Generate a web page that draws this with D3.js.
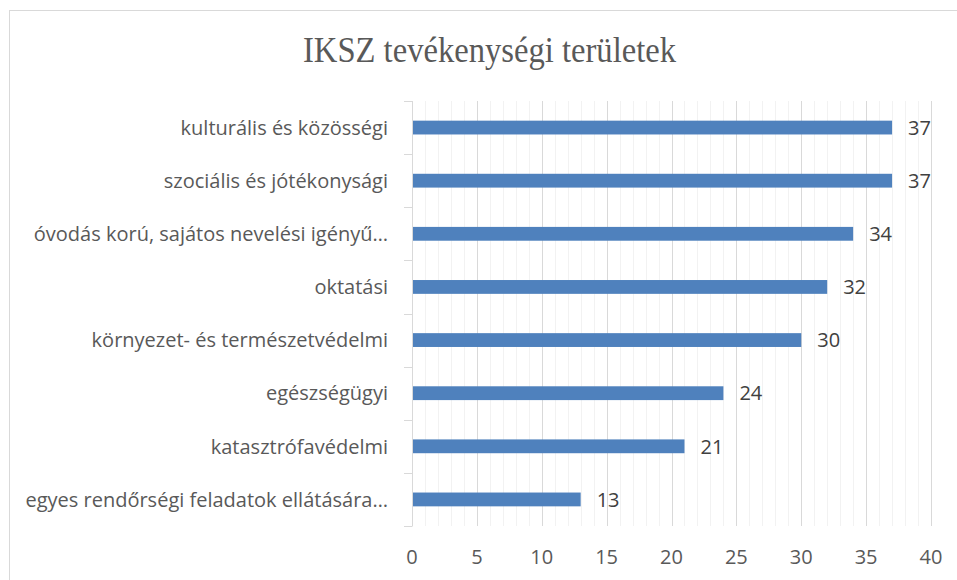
<!DOCTYPE html>
<html><head><meta charset="utf-8">
<script src="https://cdn.jsdelivr.net/npm/d3@7"></script>
<style>body{margin:0;background:#fff;} svg{display:block;}</style>
</head><body>
<script>
const title = "IKSZ tevékenységi területek";
const categories = [
  "kulturális és közösségi",
  "szociális és jótékonysági",
  "óvodás korú, sajátos nevelési igényű…",
  "oktatási",
  "környezet- és természetvédelmi",
  "egészségügyi",
  "katasztrófavédelmi",
  "egyes rendőrségi feladatok ellátására…"
];
const values = [37, 37, 34, 32, 30, 24, 21, 13];
const xTicks = [0, 5, 10, 15, 20, 25, 30, 35, 40];

(function () {
const W = 957, H = 580;
const svg = d3.select("body").append("svg").attr("width", W).attr("height", H);

// chart frame
svg.append("rect").attr("x", 9.5).attr("y", 10.5).attr("width", 980).attr("height", 600)
  .attr("fill", "#fff").attr("stroke", "#d9d9d9").attr("stroke-width", 1);

const pL = 412, pR = 931, pT = 101, pB = 526;
const x = d3.scaleLinear().domain([0, 40]).range([pL, pR]);
const y = d3.scaleBand().domain(categories).range([pT, pB]).paddingInner(0.74).paddingOuter(0.37);

// minor gridlines
svg.append("g").selectAll("line").data(d3.range(0, 41).filter(d => d % 5 !== 0)).join("line")
  .attr("x1", d => Math.round(x(d)) + 0.5).attr("x2", d => Math.round(x(d)) + 0.5)
  .attr("y1", pT).attr("y2", pB).attr("stroke", "#f2f2f2").attr("stroke-width", 1);
// major gridlines
svg.append("g").selectAll("line").data(xTicks.filter(d => d > 0)).join("line")
  .attr("x1", d => Math.round(x(d)) + 0.5).attr("x2", d => Math.round(x(d)) + 0.5)
  .attr("y1", pT).attr("y2", pB).attr("stroke", "#d9d9d9").attr("stroke-width", 1);

// category axis
const bounds = d3.range(0, categories.length + 1).map(i => pT + i * (pB - pT) / categories.length);
svg.append("line").attr("x1", pL + 0.5).attr("x2", pL + 0.5).attr("y1", pT).attr("y2", pB)
  .attr("stroke", "#d9d9d9");
svg.append("g").selectAll("line").data(bounds).join("line")
  .attr("x1", pL - 8).attr("x2", pL + 0.5)
  .attr("y1", d => Math.round(d) + 0.5).attr("y2", d => Math.round(d) + 0.5)
  .attr("stroke", "#d9d9d9");

// bars
svg.append("g").selectAll("rect").data(values).join("rect")
  .attr("x", x(0) + 1).attr("y", (d, i) => y(categories[i]))
  .attr("width", d => x(d) - x(0) - 1).attr("height", y.bandwidth())
  .attr("fill", "#4f81bd");

// value labels
svg.append("g").selectAll("text").data(values).join("text")
  .attr("x", d => x(d) + 16).attr("y", (d, i) => y(categories[i]) + y.bandwidth() / 2)
  .attr("dy", "0.36em").attr("font-family", "'Open Sans', sans-serif").attr("font-size", 20)
  .attr("fill", "#404040").text(d => d);

// category labels
svg.append("g").selectAll("text").data(categories).join("text")
  .attr("x", 388).attr("y", d => y(d) + y.bandwidth() / 2)
  .attr("dy", "0.36em").attr("text-anchor", "end")
  .attr("font-family", "'Open Sans', sans-serif").attr("font-size", 20)
  .attr("fill", "#595959").text(d => d);

// x tick labels
svg.append("g").selectAll("text").data(xTicks).join("text")
  .attr("x", d => x(d)).attr("y", 557).attr("dy", "0.36em").attr("text-anchor", "middle")
  .attr("font-family", "'Open Sans', sans-serif").attr("font-size", 20)
  .attr("fill", "#595959").text(d => d);

// title
svg.append("text").attr("x", 489.5).attr("y", 62).attr("text-anchor", "middle")
  .attr("font-family", "'Liberation Serif', serif").attr("font-size", 35)
  .attr("textLength", 373).attr("lengthAdjust", "spacingAndGlyphs")
  .attr("fill", "#595959").text(title);
})();
</script>
</body></html>
